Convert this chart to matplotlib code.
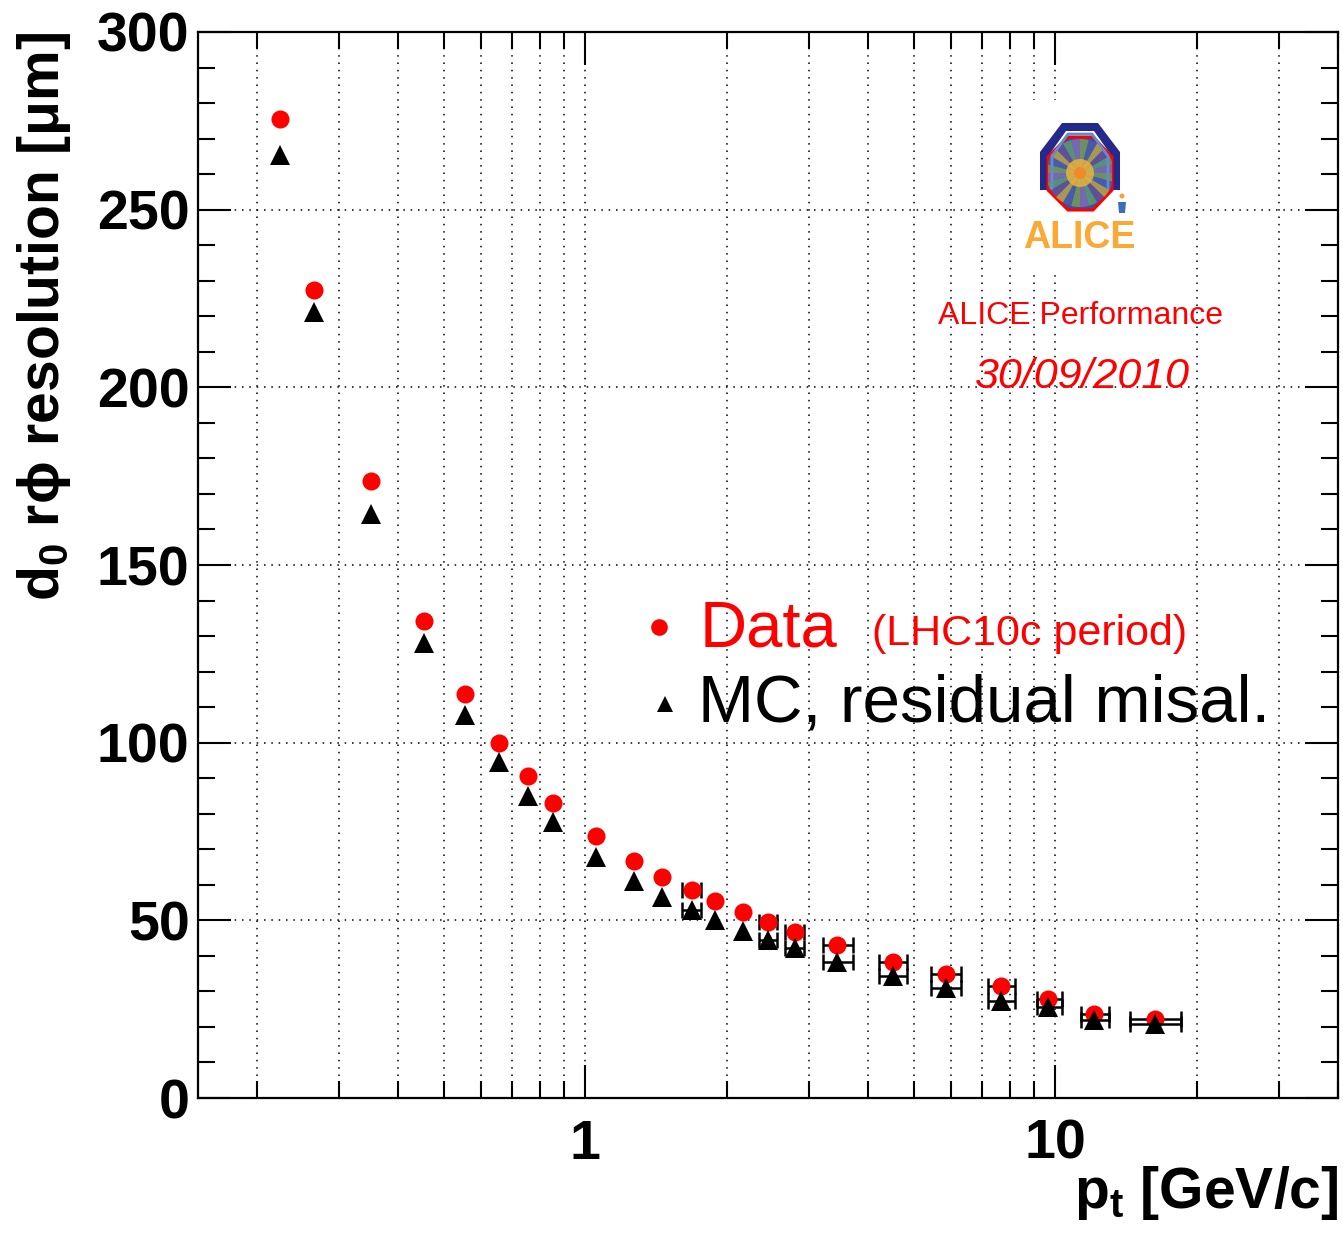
import matplotlib
matplotlib.use("Agg")
import matplotlib.pyplot as plt
import numpy as np
from matplotlib.ticker import MultipleLocator, LogLocator, NullFormatter
from matplotlib.patches import Polygon, Circle, Wedge

plt.rcParams['font.family'] = ['Liberation Sans', 'DejaVu Sans']
plt.rcParams['mathtext.fontset'] = 'custom'
plt.rcParams['mathtext.rm'] = 'Liberation Sans:bold'
plt.rcParams['mathtext.it'] = 'Liberation Sans:bold'
plt.rcParams['mathtext.bf'] = 'Liberation Sans:bold'
plt.rcParams['mathtext.fallback'] = 'stixsans'

# pt bins (GeV/c) and d0 resolution (um)
pt = [0.224, 0.265, 0.350, 0.454, 0.554, 0.654, 0.754, 0.856, 1.055, 1.27,
      1.455, 1.685, 1.885, 2.17, 2.45, 2.79, 3.44, 4.51, 5.85, 7.65, 9.67,
      12.1, 16.3]
pt_err_lo = [0, 0, 0, 0, 0, 0, 0, 0, 0, 0, 0, 0.075, 0, 0, 0.11, 0.13,
             0.23, 0.30, 0.42, 0.47, 0.51, 0.75, 1.9]
pt_err_hi = [0, 0, 0, 0, 0, 0, 0, 0, 0, 0, 0, 0.075, 0, 0, 0.11, 0.13,
             0.27, 0.33, 0.46, 0.57, 0.68, 0.90, 2.2]
res_data = [275.5, 227.4, 173.7, 134.3, 113.7, 100.0, 90.7, 82.9, 73.7, 66.8,
            62.3, 58.5, 55.5, 52.3, 49.5, 46.8, 43.0, 38.4, 35.0, 31.6, 27.8,
            23.6, 22.2]
res_mc = [265.4, 221.2, 164.4, 128.0, 107.8, 94.7, 85.0, 77.8, 67.8, 61.1,
          56.7, 52.9, 50.1, 47.1, 44.5, 42.1, 38.4, 34.3, 30.9, 27.4, 25.5,
          22.0, 20.8]

fig = plt.figure(figsize=(13.43, 12.40), dpi=100)
ax = fig.add_axes([0.1474, 0.1145, 0.849, 0.8597])

# only bins with a visible x width get an error bar
sel = np.array(pt_err_hi) > 0
x_e = np.array(pt)[sel]
xerr = [np.array(pt_err_lo)[sel], np.array(pt_err_hi)[sel]]

ax.errorbar(x_e, np.array(res_data)[sel], xerr=xerr, fmt='none', ecolor='black',
            elinewidth=1.8, capsize=5.5, capthick=1.8, zorder=3)
ax.plot(pt, res_data, 'o', color='red', ms=13, mew=0, zorder=3.5)
ax.errorbar(x_e, np.array(res_mc)[sel], xerr=xerr, fmt='none', ecolor='black',
            elinewidth=1.8, capsize=5.5, capthick=1.8, zorder=4)
ax.plot(pt, res_mc, '^', color='black', ms=14.5, mew=0, zorder=4.5)

ax.set_xscale('log')
ax.set_xlim(0.15, 40)
ax.set_ylim(0, 300)
ax.set_xticks([1, 10], labels=['1', '10'])
ax.xaxis.set_minor_locator(LogLocator(subs=range(2, 10)))
ax.xaxis.set_minor_formatter(NullFormatter())
ax.yaxis.set_major_locator(MultipleLocator(50))
ax.yaxis.set_minor_locator(MultipleLocator(10))

ax.tick_params(which='both', direction='in', top=True, right=True, width=1.5)
ax.tick_params(which='major', length=24)
ax.tick_params(which='minor', length=12)
ax.tick_params(axis='y', which='major', labelsize=40, pad=6)
ax.tick_params(axis='x', which='major', labelsize=40, pad=15)
for lab in ax.get_xticklabels() + ax.get_yticklabels():
    lab.set_fontweight('bold')
for sp in ax.spines.values():
    sp.set_linewidth(1.6)

ax.set_axisbelow(True)
dots = (0, (1, 3.8))
ax.grid(True, which='both', axis='x', color='black', lw=1.1, ls=dots)
ax.grid(True, which='major', axis='y', color='black', lw=1.1, ls=dots)

ax.set_ylabel(r'd$_0$ r$\phi$ resolution [$\mu$m]', fontsize=41,
              fontweight='bold', loc='top')
ax.yaxis.set_label_coords(-0.11, 1.0)
ax.set_xlabel(r'p$_t$ [GeV/c]', fontsize=41, fontweight='bold', loc='right')
ax.xaxis.set_label_coords(1.0, -0.062)

# legend
ax.plot([0.4045], [0.4420], 'o', color='red', ms=12, mew=0, transform=ax.transAxes)
ax.plot([0.4100], [0.3700], '^', color='black', ms=11, mew=0, transform=ax.transAxes)
ax.text(0.4400, 0.4240, 'Data', color='red', fontsize=47, transform=ax.transAxes,
        va='baseline')
ax.text(0.5912, 0.4250, '(LHC10c period)', color='red', fontsize=31,
        transform=ax.transAxes, va='baseline')
ax.text(0.4385, 0.3530, 'MC, residual misal.', color='black', fontsize=48.5,
        transform=ax.transAxes, va='baseline')

ax.text(0.7737, 0.7261, 'ALICE Performance', color='red', fontsize=23,
        transform=ax.transAxes, ha='center', va='baseline')
ax.text(0.7754, 0.666, '30/09/2010', color='red', fontsize=31, style='italic',
        transform=ax.transAxes, ha='center', va='baseline')

# ALICE logo, drawn in pixel coordinates of its own white box
lx0, lx1, ly0, ly1 = 1013, 1152, 100, 273
lg = fig.add_axes([lx0 / 1343, 1 - ly1 / 1240, (lx1 - lx0) / 1343, (ly1 - ly0) / 1240])
lg.set_xlim(lx0, lx1)
lg.set_ylim(ly1, ly0)
lg.set_facecolor('white')
for sp in lg.spines.values():
    sp.set_visible(False)
lg.set_xticks([])
lg.set_yticks([])

outer = [(1040, 190), (1040, 152), (1062, 123), (1098, 123), (1120, 152), (1120, 190),
         (1111, 190), (1111, 155), (1094, 131), (1066, 131), (1049, 155), (1049, 190)]
lg.add_patch(Polygon(outer, closed=True, fc='#232a8c', ec='none'))
lg.plot([1052, 1052, 1068, 1092, 1108, 1108], [188, 156, 134, 134, 156, 188],
        color='#5d8fd0', lw=2)
inner = [(1068, 137), (1093, 137), (1112, 157), (1112, 190), (1093, 210), (1068, 210),
         (1048, 190), (1048, 157)]
lg.add_patch(Polygon(inner, closed=True, fc='#3f4fa0', ec='red', lw=2.2))
cols = ['#7aa84a', '#4a5fb0', '#c9b13a', '#6a4f9a', '#5fa86a', '#8a6fb8']
for i in range(24):
    lg.add_patch(Wedge((1080, 173), 34, i * 15, i * 15 + 15, fc=cols[i % 6],
                       ec='none', alpha=0.75,
                       clip_path=Polygon(inner, closed=True, transform=lg.transData)))
lg.add_patch(Circle((1080, 173), 14, fc='#e8b43a', ec='none', alpha=0.85))
lg.add_patch(Circle((1080, 173), 6, fc='#f08a2a', ec='none'))
lg.add_patch(Circle((1122, 196), 2.5, fc='#f2a23a', ec='none'))
lg.add_patch(Polygon([(1118, 202), (1126, 202), (1125, 213), (1119, 213)], closed=True,
                     fc='#3d6fb8', ec='none'))
lg.text(1079, 248, 'ALICE', color='#fba834', fontsize=27, fontweight='bold',
        ha='center', va='baseline')

fig.savefig('out.png', dpi=100)
